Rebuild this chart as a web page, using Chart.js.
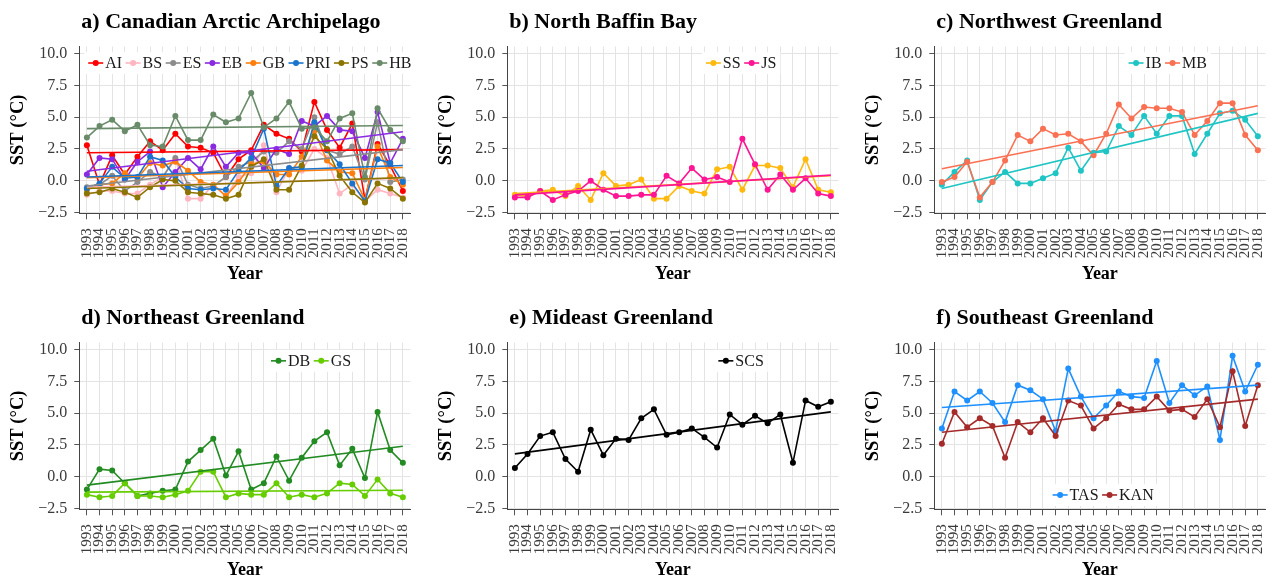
<!DOCTYPE html>
<html><head><meta charset="utf-8">
<script src="https://cdn.jsdelivr.net/npm/chart.js@4"></script>
<style>
html,body{margin:0;padding:0;background:#fff;}
#wrap{position:relative;width:1288px;height:581px;overflow:hidden;background:#fff;}
canvas{position:absolute;}
</style></head><body><div id="wrap">
<canvas id="ca" width="430" height="285" style="left:0px;top:0px"></canvas>
<canvas id="cb" width="430" height="285" style="left:428px;top:0px"></canvas>
<canvas id="cc" width="430" height="285" style="left:855px;top:0px"></canvas>
<canvas id="cd" width="430" height="285" style="left:0px;top:296px"></canvas>
<canvas id="ce" width="430" height="285" style="left:428px;top:296px"></canvas>
<canvas id="cf" width="430" height="285" style="left:855px;top:296px"></canvas>
</div>
<script>
// ---- data ----
const years = [1993,1994,1995,1996,1997,1998,1999,2000,2001,2002,2003,2004,2005,2006,2007,2008,2009,2010,2011,2012,2013,2014,2015,2016,2017,2018];
const yTicks = [-2.5, 0, 2.5, 5, 7.5, 10];

// a) Canadian Arctic Archipelago
const AI  = [2.8,-0.3,2.0,0.5,1.9,3.1,2.4,3.7,2.7,2.6,2.2,0.3,1.7,2.4,4.4,3.7,3.3,2.3,6.2,4.0,2.6,4.5,-1.5,2.9,1.2,-0.8];
const BS  = [-1.1,-0.8,-0.8,-1.0,-1.0,-0.3,0.3,1.7,-1.4,-1.4,-0.3,-1.2,0.3,0.6,2.8,-0.9,1.0,0.8,2.5,1.8,-1.0,-0.3,-1.6,-0.7,-1.0,-1.3];
const ES  = [-0.5,-0.3,0.4,-0.8,-0.1,0.7,0.3,1.8,-0.3,-0.6,-0.4,0.3,1.1,1.5,2.3,2.2,3.1,2.5,5.0,2.4,2.1,2.7,0.1,4.6,-0.1,0.1];
const EB  = [0.5,1.8,1.7,0.1,1.5,2.3,-0.5,0.7,1.8,0.9,2.7,1.1,2.2,2.2,1.0,2.5,2.1,4.7,4.3,5.1,4.0,3.9,1.8,5.4,1.4,3.3];
const GB  = [-0.7,-0.3,-0.2,0.6,0.2,1.4,1.2,1.5,0.8,-0.1,-0.3,-1.2,-0.1,1.3,1.5,0.5,0.5,1.9,3.9,1.6,0.7,0.6,-1.5,2.7,0.3,-0.3];
const PRI = [-0.6,-0.2,1.1,0.2,0.3,1.9,1.6,0.3,-0.6,-0.7,-0.6,-0.7,0.8,1.8,4.1,-0.4,1.0,1.1,4.6,2.4,1.3,-0.2,-1.6,1.7,1.4,-0.1];
const PS  = [-1.0,-0.9,-0.6,-0.9,-1.3,-0.5,0.1,0.0,-0.9,-1.0,-1.1,-1.4,-1.1,1.1,1.7,-0.7,-0.7,1.2,3.5,2.5,0.4,-0.9,-1.7,-0.2,-0.6,-1.4];
const HB  = [3.4,4.3,4.8,3.9,4.4,2.8,2.7,5.1,3.2,3.2,5.2,4.6,4.9,6.9,4.2,4.9,6.2,4.1,4.2,3.1,4.9,5.3,0.3,5.7,4.0,3.1];
const trendAI = [2.2, 2.45], trendBS = [-0.5, 0.2], trendES = [-0.4, 2.45], trendEB = [0.75, 3.85];
const trendGB = [0.25, 1.05], trendPRI = [0.3, 1.2], trendPS = [-0.6, 0.25], trendHB = [4.1, 4.35];

// b) North Baffin Bay
const SS = [-1.1,-1.2,-0.8,-0.7,-1.2,-0.4,-1.5,0.6,-0.4,-0.3,0.1,-1.4,-1.4,-0.4,-0.8,-1.0,0.9,1.1,-0.7,1.2,1.2,1.0,-0.5,1.7,-0.7,-0.9];
const JS = [-1.3,-1.3,-0.8,-1.5,-1.1,-0.8,0.0,-0.7,-1.2,-1.2,-1.1,-1.1,0.4,-0.2,1.0,0.1,0.3,-0.1,3.3,1.3,-0.7,0.5,-0.7,0.2,-1.0,-1.2];
const trendSS = [-1.0, 0.4], trendJS = [-1.1, 0.45];

// c) Northwest Greenland
const IB = [-0.3,0.7,1.6,-1.5,-0.1,0.7,-0.2,-0.2,0.2,0.6,2.6,0.8,2.2,2.3,4.3,3.6,5.1,3.7,5.1,5.1,2.1,3.7,5.3,5.5,4.8,3.5];
const MB = [-0.1,0.3,1.5,-1.3,-0.1,1.6,3.6,3.1,4.1,3.6,3.7,3.1,2.0,3.7,6.0,4.9,5.8,5.7,5.7,5.4,3.6,4.7,6.1,6.1,3.6,2.4];
const trendIB = [-0.6, 5.3], trendMB = [0.95, 5.9];

// d) Northeast Greenland
const DB = [-1.0,0.6,0.5,-0.5,-1.5,-1.3,-1.1,-1.0,1.2,2.1,3.0,0.1,2.0,-1.0,-0.5,1.6,-0.3,1.5,2.8,3.5,0.9,2.2,-0.1,5.1,2.1,1.1];
const GS = [-1.4,-1.6,-1.5,-0.5,-1.5,-1.5,-1.6,-1.4,-1.1,0.4,0.4,-1.6,-1.3,-1.4,-1.4,-0.5,-1.6,-1.4,-1.6,-1.3,-0.5,-0.6,-1.5,-0.2,-1.3,-1.6];
const trendDB = [-0.65, 2.4], trendGS = [-1.2, -1.05];

// e) Mideast Greenland
const SCS = [0.7,1.8,3.2,3.5,1.4,0.4,3.7,1.7,3.0,2.9,4.6,5.3,3.3,3.5,3.8,3.1,2.3,4.9,4.1,4.8,4.2,4.9,1.1,6.0,5.5,5.9];
const trendSCS = [1.8, 5.1];

// f) Southeast Greenland
const TAS = [3.8,6.7,6.0,6.7,5.8,4.3,7.2,6.8,6.1,3.6,8.5,6.3,4.6,5.6,6.7,6.3,6.2,9.1,5.8,7.2,6.4,7.1,2.9,9.5,6.7,8.8];
const KAN = [2.6,5.1,3.9,4.6,4.0,1.5,4.3,3.5,4.6,3.2,6.0,5.6,3.8,4.6,5.7,5.3,5.3,6.3,5.2,5.3,4.7,6.1,3.9,8.3,4.0,7.2];
const trendTAS = [5.45, 7.2], trendKAN = [3.5, 6.1];

// ---- helpers ----
const SERIF = '"Liberation Serif", "Times New Roman", serif';

function series(label, vals, color, idx) {
  return { label, data: years.map((yr, i) => ({ x: yr, y: vals[i] })),
    borderColor: color, backgroundColor: color, borderWidth: 1.6,
    pointRadius: 3, pointBorderWidth: 0, pointHoverRadius: 3, tension: 0,
    order: 100 - idx };
}
function trend(label, tv, color, idx) {
  return { label: label + ' trend',
    data: [{ x: years[0], y: tv[0] }, { x: years[years.length - 1], y: tv[1] }],
    borderColor: color, borderWidth: 1.6, pointRadius: 0, pointHoverRadius: 0,
    order: 50 - idx };
}

const ggTitle = {
  id: 'ggTitle',
  afterDraw(chart, args, o) {
    const ctx = chart.ctx;
    ctx.save();
    ctx.font = 'bold 22px ' + SERIF;
    ctx.fillStyle = '#000';
    ctx.textBaseline = 'middle';
    ctx.textAlign = 'left';
    ctx.fillText(o.text, chart.chartArea.left + 2, 22);
    ctx.restore();
  }
};

const ggLegend = {
  id: 'ggLegend',
  afterDatasetsDraw(chart, args, o) {
    const ctx = chart.ctx, ca = chart.chartArea;
    ctx.save();
    ctx.font = '16px ' + SERIF;
    const lineLen = 15, gapT = 2, gapItem = 3.5, padX = 4, h = 22;
    const items = o.items;
    const widths = items.map(it => lineLen + gapT + ctx.measureText(it.label).width);
    const total = widths.reduce((a, b) => a + b, 0) + gapItem * (items.length - 1) + 2 * padX;
    const cx = ca.left + o.fx * (ca.right - ca.left);
    const cy = ca.top + o.fy * (ca.bottom - ca.top);
    let x = cx - total / 2;
    ctx.fillStyle = '#fff';
    ctx.fillRect(x, cy - h / 2, total, h);
    x += padX;
    items.forEach((it, i) => {
      ctx.strokeStyle = it.color; ctx.lineWidth = 1.6;
      ctx.beginPath(); ctx.moveTo(x, cy); ctx.lineTo(x + lineLen, cy); ctx.stroke();
      ctx.fillStyle = it.color;
      ctx.beginPath(); ctx.arc(x + lineLen / 2, cy, 3, 0, Math.PI * 2); ctx.fill();
      ctx.fillStyle = '#1a1a1a'; ctx.textBaseline = 'middle'; ctx.textAlign = 'left';
      ctx.fillText(it.label, x + lineLen + gapT, cy + 1);
      x += widths[i] + gapItem;
    });
    ctx.restore();
  }
};

function fmtY(v) { return (v < 0 ? '\u2212' : '') + Math.abs(v).toFixed(1); }

function makeChart(id, title, list, fx, fy) {
  const datasets = [];
  list.forEach((s, i) => datasets.push(series(s.name, s.vals, s.color, i)));
  list.forEach((s, i) => datasets.push(trend(s.name, s.trend, s.color, i)));
  const gridCommon = { color: '#e4e4e4', lineWidth: 1, tickColor: '#555', drawTicks: true };
  new Chart(document.getElementById(id), {
    type: 'line',
    data: { datasets },
    plugins: [ggTitle, ggLegend],
    options: {
      responsive: false, animation: false, events: [],
      layout: { padding: { left: 0, right: 6.5, top: 46.5, bottom: 0 } },
      plugins: {
        legend: { display: false }, tooltip: { enabled: false },
        ggTitle: { text: title },
        ggLegend: { fx, fy, items: list.map(s => ({ label: s.name, color: s.color })) }
      },
      scales: {
        x: {
          type: 'linear', min: 1992.4, max: 2018.6,
          afterBuildTicks: s => { s.ticks = years.map(v => ({ value: v })); },
          afterFit: s => { s.height = 71.7; },
          grid: Object.assign({}, gridCommon, { tickLength: 6 }),
          border: { display: true, color: '#444', width: 1 },
          ticks: { autoSkip: false, minRotation: 90, maxRotation: 90, padding: 9, color: '#3a3a3a',
            font: { family: SERIF, size: 15 }, callback: v => String(v) },
          title: { display: true, text: 'Year', color: '#000',
            font: { family: SERIF, size: 18, weight: 'bold' }, padding: { top: 0, bottom: 0 } }
        },
        y: {
          min: -2.55, max: 10.55,
          afterBuildTicks: s => { s.ticks = yTicks.map(v => ({ value: v })); },
          afterFit: s => { s.width = 79.3; },
          grid: Object.assign({}, gridCommon, { tickLength: 5 }),
          border: { display: true, color: '#444', width: 1 },
          ticks: { padding: 7, color: '#3a3a3a', font: { family: SERIF, size: 16 }, callback: v => fmtY(v) },
          title: { display: true, text: 'SST (°C)', color: '#000',
            font: { family: SERIF, size: 18.5, weight: 'bold' }, padding: { top: 7, bottom: 0 } }
        }
      }
    }
  });
}

makeChart('ca', 'a) Canadian Arctic Archipelago', [
  { name: 'AI', vals: AI, trend: trendAI, color: '#ff0000' },
  { name: 'BS', vals: BS, trend: trendBS, color: '#ffb6c1' },
  { name: 'ES', vals: ES, trend: trendES, color: '#8c8c8c' },
  { name: 'EB', vals: EB, trend: trendEB, color: '#8a2be2' },
  { name: 'GB', vals: GB, trend: trendGB, color: '#ff7f0e' },
  { name: 'PRI', vals: PRI, trend: trendPRI, color: '#1874cd' },
  { name: 'PS', vals: PS, trend: trendPS, color: '#8b7500' },
  { name: 'HB', vals: HB, trend: trendHB, color: '#698b69' }
], 0.515, 0.099);

makeChart('cb', 'b) North Baffin Bay', [
  { name: 'SS', vals: SS, trend: trendSS, color: '#ffb90f' },
  { name: 'JS', vals: JS, trend: trendJS, color: '#ff1493' }
], 0.706, 0.099);

makeChart('cc', 'c) Northwest Greenland', [
  { name: 'IB', vals: IB, trend: trendIB, color: '#1fc4c4' },
  { name: 'MB', vals: MB, trend: trendMB, color: '#fa7052' }
], 0.705, 0.099);

makeChart('cd', 'd) Northeast Greenland', [
  { name: 'DB', vals: DB, trend: trendDB, color: '#228b22' },
  { name: 'GS', vals: GS, trend: trendGS, color: '#66cd00' }
], 0.70, 0.11);

makeChart('ce', 'e) Mideast Greenland', [
  { name: 'SCS', vals: SCS, trend: trendSCS, color: '#000000' }
], 0.706, 0.11);

makeChart('cf', 'f) Southeast Greenland', [
  { name: 'TAS', vals: TAS, trend: trendTAS, color: '#1e90ff' },
  { name: 'KAN', vals: KAN, trend: trendKAN, color: '#a52a2a' }
], 0.51, 0.914);
</script>
</body></html>
